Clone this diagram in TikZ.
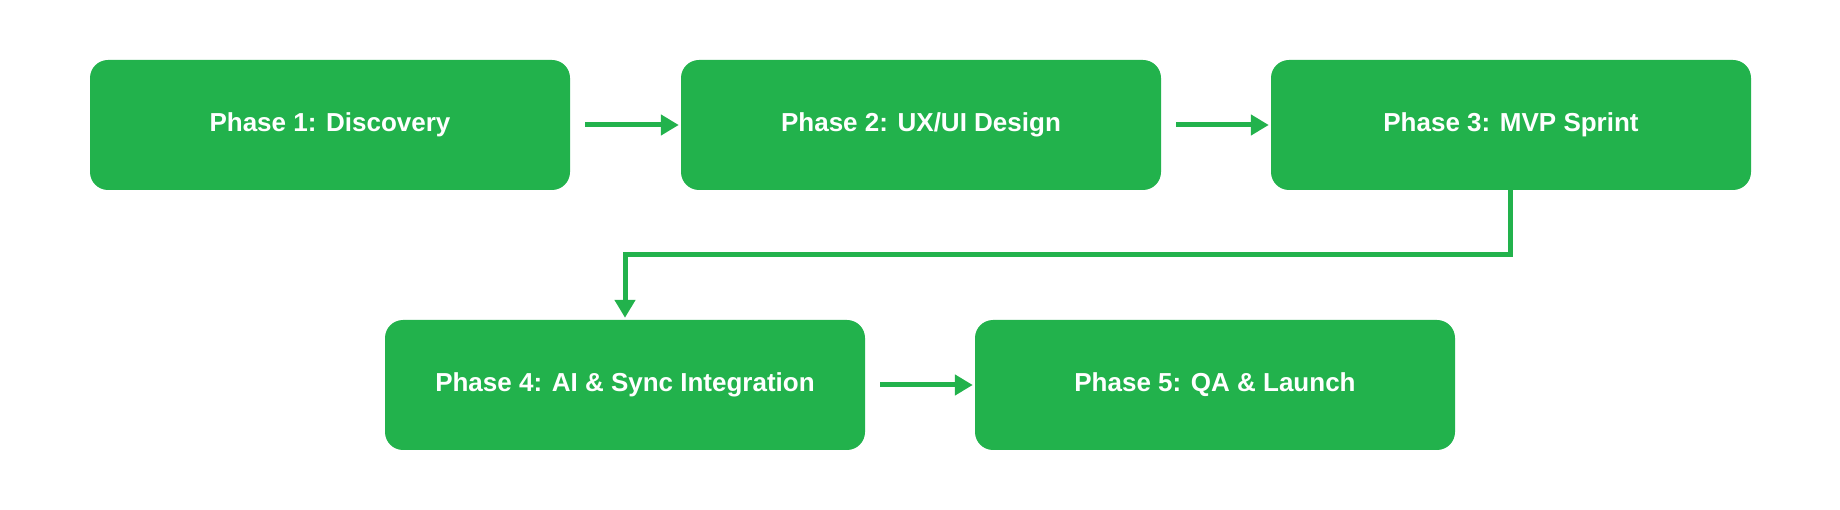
\documentclass[tikz,border=0pt]{standalone}
\usepackage{fontspec}
\setmainfont{Liberation Sans}
\usetikzlibrary{positioning}
\usetikzlibrary{arrows.meta}
\definecolor{phaseGreen}{HTML}{22B24C}
\tikzset{
  phaseNode/.style={%
    rectangle, rounded corners=18pt, fill=phaseGreen, draw=none,
    minimum width=480pt, minimum height=130pt,
    text=white, font=\bfseries\fontsize{26}{30}\selectfont,
  },
  phaseArrow/.style={%
    draw=phaseGreen, line width=5pt, -{Triangle[length=18pt,width=20pt]},
  }
}
\begin{document}
\begin{tikzpicture}[x=1pt,y=-1pt]
  \useasboundingbox (0,0) rectangle (1840,510);
  \node[phaseNode] (phase1) at (330,125) {Phase 1: Discovery};
  \node[phaseNode] (phase2) at (921,125) {Phase 2: UX/UI Design};
  \node[phaseNode] (phase3) at (1511,125) {Phase 3: MVP Sprint};
  \node[phaseNode] (phase4) at (625,385) {Phase 4: AI \& Sync Integration};
  \node[phaseNode] (phase5) at (1215,385) {Phase 5: QA \& Launch};
  \draw[phaseArrow, shorten <=15pt, shorten >=2pt] (phase1) -- (phase2);
  \draw[phaseArrow, shorten <=15pt, shorten >=2pt] (phase2) -- (phase3);
  \draw[phaseArrow, shorten <=15pt, shorten >=2pt] (phase4) -- (phase5);
  \draw[phaseArrow, shorten >=2pt] (phase3.south -| 1510,0) |- (625,255) -- (phase4.north);
\end{tikzpicture}
\end{document}
